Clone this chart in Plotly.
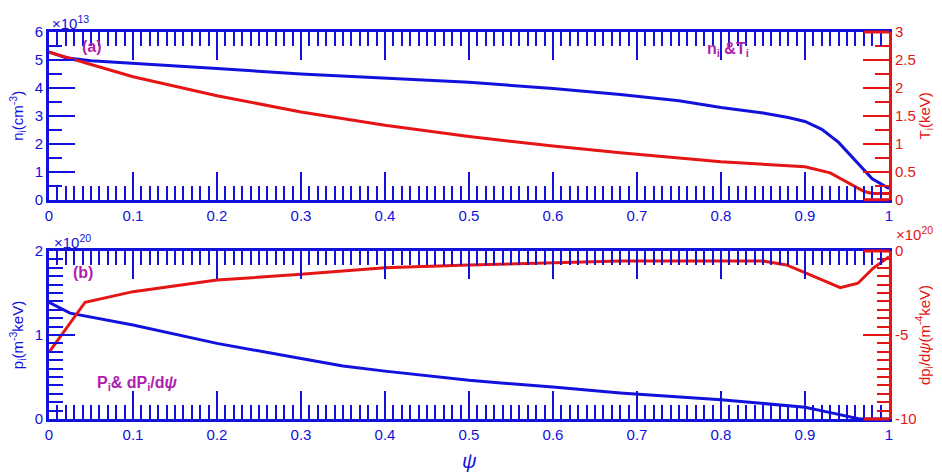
import plotly.graph_objects as go

# ---------------- data ----------------
psi_n = [0, 0.02, 0.05, 0.1, 0.2, 0.3, 0.4, 0.5, 0.6, 0.68, 0.75, 0.8, 0.85, 0.88, 0.9, 0.92, 0.94, 0.96, 0.98, 1.0]
n_i = [5.29, 5.08, 4.97, 4.87, 4.69, 4.5, 4.35, 4.2, 3.98, 3.76, 3.54, 3.3, 3.1, 2.94, 2.8, 2.52, 2.05, 1.4, 0.75, 0.4]

psi_T = [0, 0.05, 0.1, 0.2, 0.3, 0.4, 0.5, 0.6, 0.68, 0.8, 0.9, 0.93, 0.95, 0.97, 0.98, 1.0]
T_i = [2.64, 2.42, 2.2, 1.86, 1.57, 1.33, 1.13, 0.96, 0.84, 0.68, 0.59, 0.48, 0.32, 0.15, 0.11, 0.11]

psi_p = [0, 0.025, 0.1, 0.2, 0.3, 0.35, 0.4, 0.5, 0.6, 0.68, 0.8, 0.9, 0.933, 0.965, 1.0]
p_i = [1.39, 1.26, 1.12, 0.9, 0.72, 0.63, 0.57, 0.46, 0.38, 0.31, 0.23, 0.14, 0.07, 0.0, 0.0]

psi_dp = [0, 0.043, 0.1, 0.2, 0.3, 0.35, 0.4, 0.5, 0.6, 0.68, 0.85, 0.878, 0.902, 0.942, 0.963, 0.981, 1.0]
dp_i = [-6.03, -3.05, -2.42, -1.73, -1.39, -1.19, -1.0, -0.83, -0.68, -0.6, -0.6, -0.83, -1.33, -2.18, -1.92, -1.03, -0.34]

x_ticks = [0, 0.1, 0.2, 0.3, 0.4, 0.5, 0.6, 0.7, 0.8, 0.9, 1]
dp_tickvals = [-10, -5, 0]
dp_ticktext = ["-10", "-5", "0"]

# ---------------- style ----------------
BLUE = "#1212DC"
RED = "#E51515"
PURPLE = "#B01EAE"
FONT = "Liberation Sans, Arial, sans-serif"

W, H = 942, 472
L, R, T, B = 49, 53, 32, 53
PW, PH = W - L - R, H - T - B


def px(x):
    return (x - L) / PW


def py(y):
    return (H - B - y) / PH


top_dom = [py(199.7), 1.0]
bot_dom = [0.0, py(251)]

fig = go.Figure()
fig.add_trace(go.Scatter(x=psi_n, y=n_i, mode="lines", line=dict(color=BLUE, width=3),
                         xaxis="x", yaxis="y", showlegend=False))
fig.add_trace(go.Scatter(x=psi_T, y=T_i, mode="lines", line=dict(color=RED, width=3),
                         xaxis="x", yaxis="y2", showlegend=False))
fig.add_trace(go.Scatter(x=psi_p, y=p_i, mode="lines", line=dict(color=BLUE, width=3),
                         xaxis="x2", yaxis="y3", showlegend=False))
fig.add_trace(go.Scatter(x=psi_dp, y=dp_i, mode="lines", line=dict(color=RED, width=3),
                         xaxis="x2", yaxis="y4", showlegend=False))
# carriers for the top (mirror) x axes
fig.add_trace(go.Scatter(x=[None], y=[None], xaxis="x3", yaxis="y", showlegend=False, hoverinfo="skip"))
fig.add_trace(go.Scatter(x=[None], y=[None], xaxis="x4", yaxis="y3", showlegend=False, hoverinfo="skip"))


def xax(anchor, side="bottom", overlay=None, labels=True):
    d = dict(domain=[0, 1], anchor=anchor, range=[0, 1], tickmode="array", tickvals=x_ticks,
             ticks="inside", ticklen=28, tickwidth=2, tickcolor=BLUE,
             minor=dict(dtick=0.01, tick0=0, ticks="inside", ticklen=14, tickwidth=2, tickcolor=BLUE),
             showline=True, linecolor=BLUE, linewidth=3, mirror=False, side=side,
             showgrid=False, zeroline=False, showticklabels=labels,
             tickfont=dict(color=BLUE, size=15, family=FONT))
    if overlay:
        d["overlaying"] = overlay
    return d


def yax(color, dom, rng, dtick, mdtick, title, side="left", overlay=None, anchor="x", mlen=13, standoff=6):
    d = dict(range=rng, dtick=dtick, tick0=rng[0], ticks="inside", ticklen=26, tickwidth=2, tickcolor=color,
             minor=dict(dtick=mdtick, tick0=rng[0], ticks="inside", ticklen=mlen, tickwidth=2, tickcolor=color),
             showline=True, linecolor=color, linewidth=3, showgrid=False, zeroline=False,
             tickfont=dict(color=color, size=15, family=FONT), side=side,
             title=dict(text=title, font=dict(color=color, size=15, family=FONT), standoff=standoff))
    if overlay:
        d["overlaying"] = overlay
        d["anchor"] = anchor
    else:
        d["domain"] = dom
        d["anchor"] = anchor
    return d


y4 = yax(RED, bot_dom, [-10, 0], 5, 0.5, "dp<sub>i</sub>/d<i>ψ</i>(m<sup>-4</sup>keV)", side="right",
         overlay="y3", anchor="x2", mlen=12, standoff=4)
y4["tickmode"] = "array"
y4["tickvals"] = dp_tickvals
y4["ticktext"] = dp_ticktext
y4.pop("dtick")
y4.pop("tick0")

fig.update_layout(
    width=W, height=H,
    margin=dict(l=L, r=R, t=T, b=B),
    paper_bgcolor="white", plot_bgcolor="white",
    font=dict(family=FONT),
    xaxis=xax("y"),
    xaxis2=xax("y3"),
    xaxis3=xax("y", side="top", overlay="x", labels=False),
    xaxis4=xax("y3", side="top", overlay="x2", labels=False),
    yaxis=yax(BLUE, top_dom, [0, 6], 1, 0.5, "n<sub>i</sub>(cm<sup>-3</sup>)", anchor="x", standoff=8),
    yaxis2=yax(RED, top_dom, [0, 3], 0.5, 0.25, "T<sub>i</sub>(keV)", side="right", overlay="y", anchor="x",
               mlen=14, standoff=4),
    yaxis3=yax(BLUE, bot_dom, [0, 2], 1, 0.1, "p<sub>i</sub>(m<sup>-3</sup>keV)", anchor="x2", mlen=14, standoff=8),
    yaxis4=y4,
)

ann = [
    dict(x=px(50), y=py(22), text="×10<sup>13</sup>", color=BLUE, size=15, xanchor="left", bold=False),
    dict(x=px(52), y=py(241), text="×10<sup>20</sup>", color=BLUE, size=15, xanchor="left", bold=False),
    dict(x=px(894), y=py(233), text="×10<sup>20</sup>", color=RED, size=15, xanchor="left", bold=False),
    dict(x=px(92), y=py(47), text="(a)", color=PURPLE, size=16, xanchor="center", bold=True),
    dict(x=px(728), y=py(50), text="n<sub>i</sub> &T<sub>i</sub>", color=PURPLE, size=16, xanchor="center", bold=True),
    dict(x=px(83), y=py(272), text="(b)", color=PURPLE, size=16, xanchor="center", bold=True),
    dict(x=px(137), y=py(383), text="P<sub>i</sub>& dP<sub>i</sub>/d<i>ψ</i>", color=PURPLE, size=16, xanchor="center", bold=True),
    dict(x=px(469), y=py(461), text="<i>ψ</i>", color=BLUE, size=20, xanchor="center", bold=False),
]
for a in ann:
    txt = "<b>" + a["text"] + "</b>" if a["bold"] else a["text"]
    fig.add_annotation(x=a["x"], y=a["y"], xref="paper", yref="paper", text=txt, showarrow=False,
                       xanchor=a["xanchor"], yanchor="middle",
                       font=dict(color=a["color"], size=a["size"], family=FONT))

# red box segments of the right axes
for yref_dom in (top_dom, bot_dom):
    for yy in yref_dom:
        fig.add_shape(type="line", xref="x", yref="paper", x0=0.97, x1=1.0, y0=yy, y1=yy,
                      line=dict(color=RED, width=3), layer="above")

fig.write_html("out.html")
